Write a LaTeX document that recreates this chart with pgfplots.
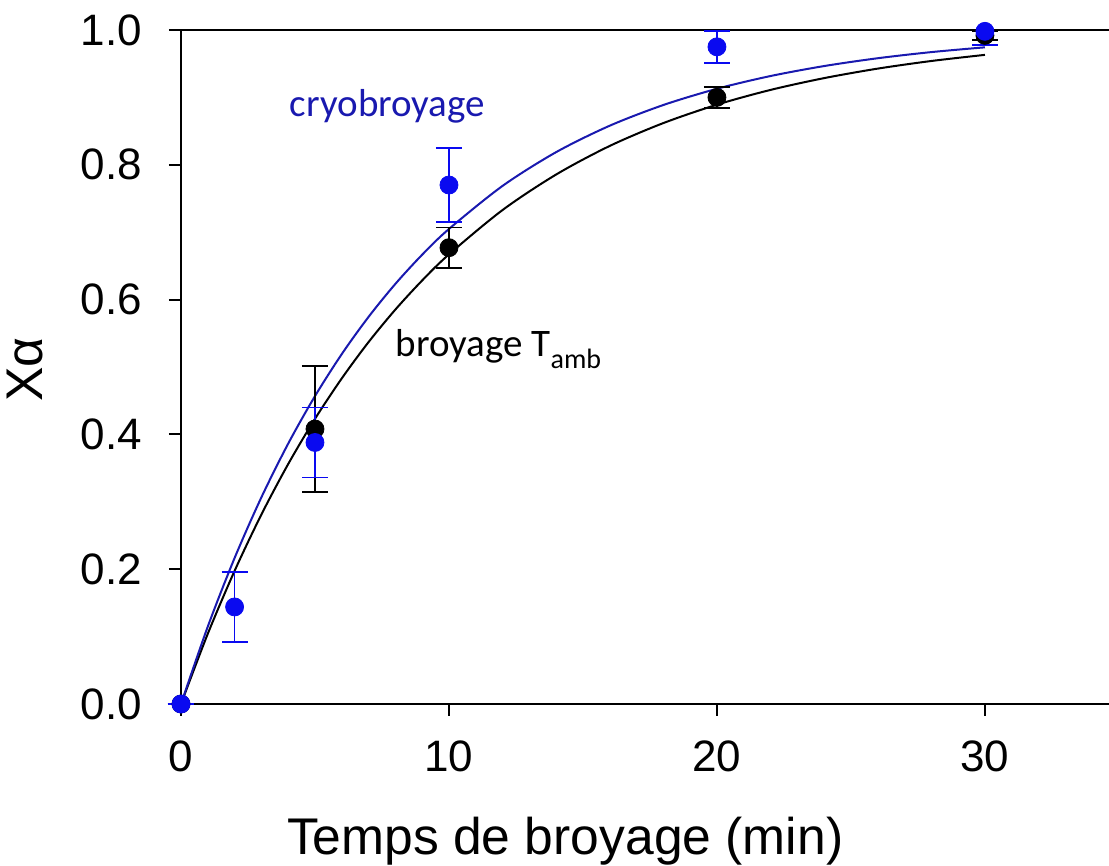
\documentclass[border=0pt]{standalone}
\usepackage{fontspec}
\setmainfont{Liberation Sans}
\newfontfamily\calib{Carlito}
\usepackage{pgfplots}
\pgfplotsset{compat=1.18}
\definecolor{ptblue}{RGB}{10,10,240}
\definecolor{lnblue}{RGB}{25,25,175}
\begin{document}
\begin{tikzpicture}
\begin{axis}[
  scale only axis,
  width=464pt, height=337pt,
  xmin=0, xmax=34.63, ymin=0, ymax=1,
  axis x line*=box, axis y line*=left,
  xtick pos=bottom, ytick pos=left,
  xtick={0,10,20,30}, ytick={0,0.2,0.4,0.6,0.8,1.0},
  tick align=outside, major tick length=6pt,
  axis line style={line width=1pt, black},
  every tick/.style={line width=1pt, black},
  /pgf/number format/assume math mode=true,
  /pgf/number format/fixed, /pgf/number format/fixed zerofill, /pgf/number format/precision=1,
  xticklabel={\pgfmathprintnumber[fixed,precision=0]{\tick}},
  ticklabel style={font=\fontsize{22}{26}\selectfont},
  yticklabel style={xshift=-10pt},
  xticklabel style={yshift=-9pt},
  clip=false,
]
% fitted curves
\addplot[black, line width=1pt, smooth] coordinates {
(0,0) (1,0.1042) (2,0.1975) (3,0.2811) (4,0.3560) (5,0.4231) (6,0.4831) (7,0.5370) (8,0.5852) (9,0.6284) (10,0.6671)
(12,0.7329) (14,0.7856) (16,0.8280) (18,0.8619) (20,0.8892) (22,0.9111) (24,0.9286) (26,0.9427) (28,0.9540) (30,0.9631)};
\addplot[lnblue, line width=1pt, smooth] coordinates {
(0,0) (1,0.1149) (2,0.2166) (3,0.3066) (4,0.3863) (5,0.4568) (6,0.5192) (7,0.5744) (8,0.6233) (9,0.6666) (10,0.7048)
(12,0.7687) (14,0.8188) (16,0.8580) (18,0.8887) (20,0.9128) (22,0.9317) (24,0.9465) (26,0.9581) (28,0.9672) (30,0.9743)};
% black data
\addplot[only marks, mark=*, mark size=4.5pt, black,
  error bars/.cd, y dir=both, y explicit,
  error bar style={line width=0.9pt, black},
  error mark options={rotate=90, mark size=6.5pt, line width=0.9pt, black}]
coordinates {
(0,0) +- (0,0)
(5,0.408) +- (0,0.093)
(10,0.677) +- (0,0.030)
(20,0.900) +- (0,0.016)
(30,0.992) +- (0,0.007)};
% blue data
\addplot[only marks, mark=*, mark size=4.5pt, ptblue,
  error bars/.cd, y dir=both, y explicit,
  error bar style={line width=0.9pt, ptblue},
  error mark options={rotate=90, mark size=6.5pt, line width=0.9pt, ptblue}]
coordinates {
(0,0) +- (0,0)
(2,0.144) +- (0,0.052)
(5,0.388) +- (0,0.052)
(10,0.770) +- (0,0.055)
(20,0.975) +- (0,0.024)};
\addplot[only marks, mark=*, mark size=4.5pt, ptblue,
  error bars/.cd, y dir=minus, y explicit,
  error bar style={line width=0.9pt, ptblue},
  error mark options={rotate=90, mark size=6.5pt, line width=0.9pt, ptblue}]
coordinates {
(30,0.998) +- (0,0.020)};
\node[anchor=base west, text=lnblue, font=\calib\fontsize{19.5}{23}\selectfont, inner sep=0pt] at (axis cs:4.05,0.871) {cryobroyage};
\node[anchor=base west, text=black, font=\calib\fontsize{19.5}{23}\selectfont, inner sep=0pt] at (axis cs:8.0,0.515) {broyage T\raisebox{-0.3em}{\fontsize{14}{16}\selectfont amb}};
\node[anchor=base, inner sep=0pt, font=\fontsize{25.8}{30}\selectfont] at ([yshift=-75.5pt]rel axis cs:0.414,0) {Temps de broyage (min)};
\node[anchor=base, rotate=90, inner sep=0pt, font=\fontsize{25.8}{30}\selectfont] at ([xshift=-69pt]rel axis cs:0,0.496) {Xα};
\end{axis}
\pgfresetboundingbox
\path[use as bounding box] ([xshift=-90.5pt,yshift=-81pt]current axis.south west) rectangle ([yshift=15pt]current axis.north east);
\end{tikzpicture}
\end{document}
